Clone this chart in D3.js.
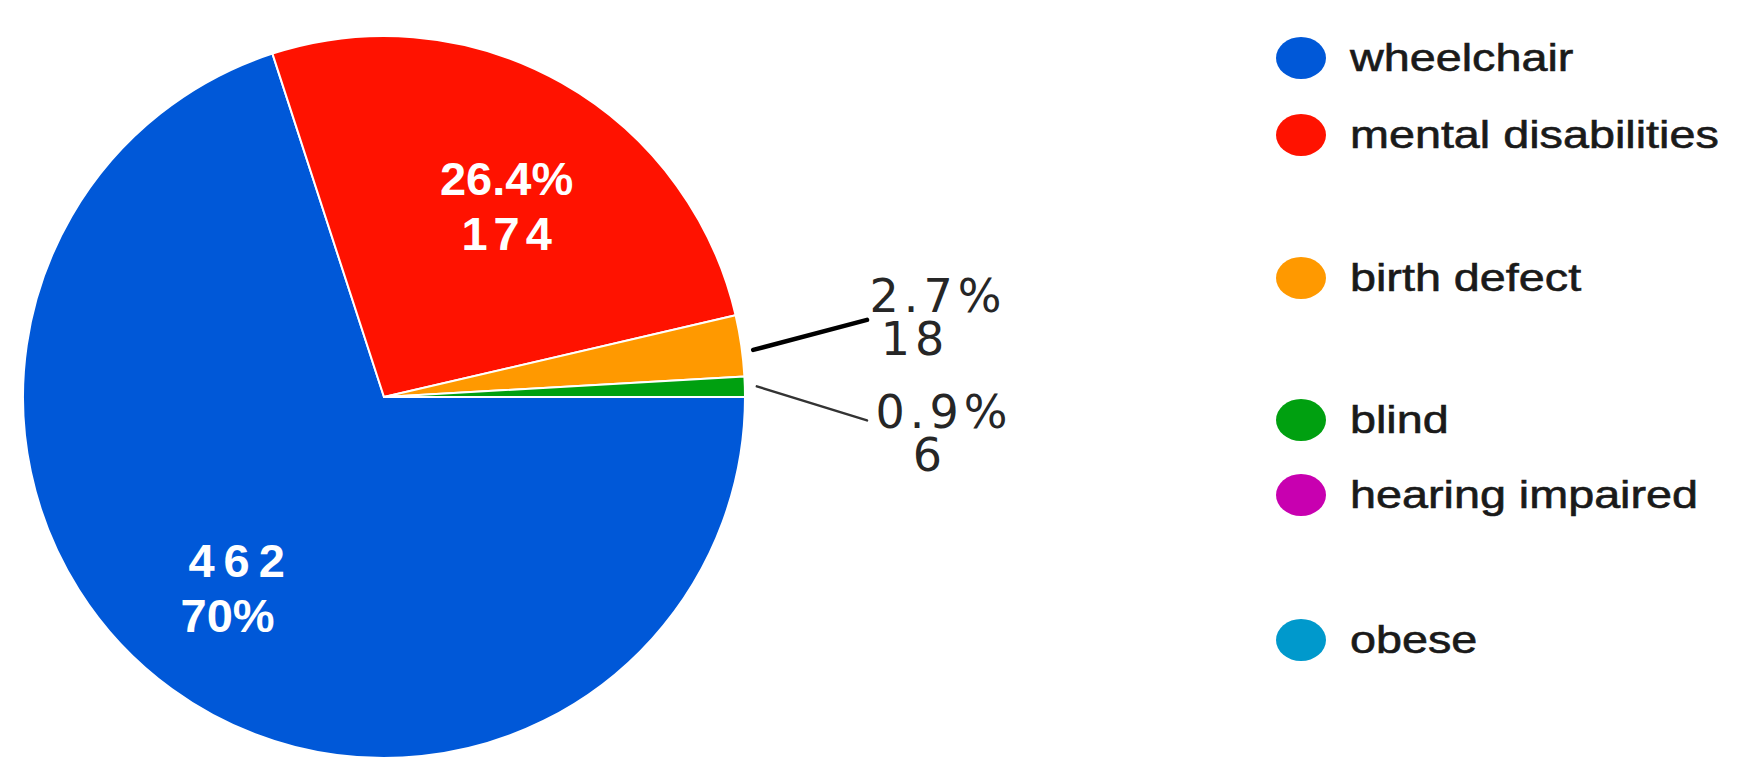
<!DOCTYPE html>
<html>
<head>
<meta charset="utf-8">
<script src="https://cdn.jsdelivr.net/npm/d3@7"></script>
<style>
  html, body { margin: 0; padding: 0; background: #ffffff; }
  svg { display: block; }
</style>
</head>
<body>
<svg id="chart" width="1751" height="784"></svg>
<script>
// ---- data ----
const categories = ["wheelchair", "mental disabilities", "birth defect", "blind", "hearing impaired", "obese"];
const counts = [462, 174, 18, 6, 0, 0];
const percentLabels = ["70%", "26.4%", "2.7%", "0.9%", "0%", "0%"];
const colors = ["#0058d8", "#ff1200", "#ff9900", "#00a010", "#c800b0", "#0099cc"];

// ---- layout ----
const cx = 384, cy = 397, R = 361;
const legendX = 1301, legendTextX = 1350;
const legendRowY = [58, 135, 278, 420, 495, 640];

const svg = d3.select("#chart");
const data = categories.map((c, i) => ({ name: c, value: counts[i], pct: percentLabels[i], color: colors[i], i }));

const pie = d3.pie().sort(null).value(d => d.value)
  .startAngle(Math.PI / 2).endAngle(Math.PI / 2 + 2 * Math.PI);
const arcs = pie(data);
const arc = d3.arc().innerRadius(0).outerRadius(R);
const labelArc = d3.arc().innerRadius(227).outerRadius(227);

const g = svg.append("g").attr("transform", `translate(${cx},${cy})`);

g.selectAll("path.slice")
  .data(arcs.filter(a => a.data.value > 0))
  .join("path")
  .attr("class", "slice")
  .attr("d", arc)
  .attr("fill", d => d.data.color)
  .attr("stroke", "#ffffff")
  .attr("stroke-width", 2)
  .attr("stroke-linejoin", "round");

// inside labels for big slices
const total = d3.sum(counts);
const big = arcs.filter(a => a.data.value / total > 0.1);
big.forEach(a => {
  const [x, y] = labelArc.centroid(a);
  const first = a.data.i === 0;
  const lines = first
    ? [{ t: String(a.data.value), ls: 9, dx: -14 }, { t: a.data.pct, ls: 0, dx: -23 }]
    : [{ t: a.data.pct, ls: 0, dx: 11 }, { t: String(a.data.value), ls: 6, dx: 11 }];
  const txt = g.append("text")
    .attr("text-anchor", "middle")
    .attr("font-family", "'Liberation Sans', Arial, sans-serif")
    .attr("font-size", 47)
    .attr("font-weight", "bold")
    .attr("fill", "#ffffff");
  lines.forEach((ln, k) => {
    txt.append("tspan")
      .attr("x", x + ln.dx + ln.ls / 2)
      .attr("y", y + (k === 0 ? -4 : 51))
      .attr("letter-spacing", ln.ls)
      .text(ln.t);
  });
});

// outside labels for small (non-zero) slices
const small = arcs.filter(a => a.data.value > 0 && a.data.value / total <= 0.1);
const startArc = d3.arc().innerRadius(R + 12).outerRadius(R + 12);
const starts = small.map(a => startArc.centroid(a));
const meanY = d3.mean(starts, s => s[1]);
small.forEach((a, k) => {
  const [sx, sy] = starts[k];
  const up = sy < meanY;
  const ex = 483, ey = sy + (up ? -24 : 34);
  g.append("line")
    .attr("x1", sx).attr("y1", sy + (up ? 6 : 0))
    .attr("x2", ex).attr("y2", ey)
    .attr("stroke", up ? "#000000" : "#333333")
    .attr("stroke-width", up ? 4.5 : 2.5)
    .attr("stroke-linecap", "round");
  const b1 = ey + (up ? -8 : 8);
  const txt = g.append("text")
    .attr("text-anchor", "middle")
    .attr("font-family", "'DejaVu Sans', sans-serif")
    .attr("font-size", 46)
    .attr("letter-spacing", 5)
    .attr("fill", "#262626");
  txt.append("tspan").attr("x", ex + (up ? 71 : 77)).attr("y", b1).text(a.data.pct);
  txt.append("tspan").attr("x", ex + (up ? 48 : 63)).attr("y", b1 + 43).text(String(a.data.value));
});

// legend
const leg = svg.append("g");
data.forEach((d, i) => {
  const y = legendRowY[i];
  leg.append("ellipse")
    .attr("cx", legendX).attr("cy", y)
    .attr("rx", 25).attr("ry", 21)
    .attr("fill", d.color);
  leg.append("text")
    .attr("transform", `translate(${legendTextX},${y + 13}) scale(1.23,1)`)
    .attr("font-family", "'Liberation Sans', Arial, sans-serif")
    .attr("font-size", 38)
    .attr("fill", "#1a1a1a")
    .attr("stroke", "#1a1a1a")
    .attr("stroke-width", 0.6)
    .text(d.name);
});
</script>
</body>
</html>
